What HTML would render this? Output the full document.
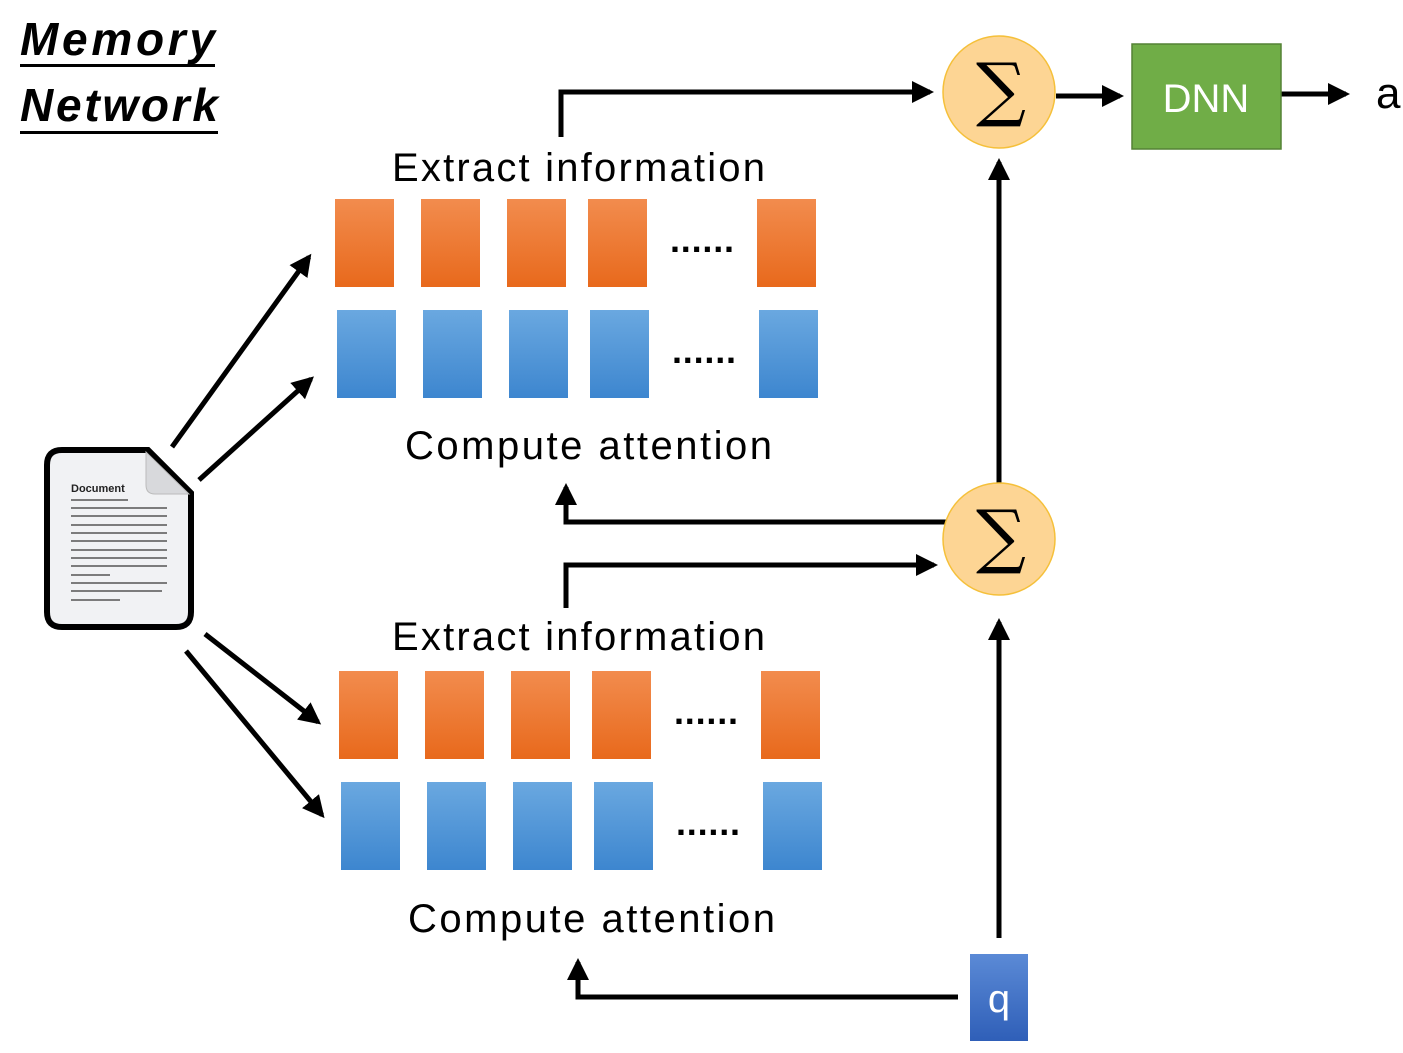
<!DOCTYPE html>
<html><head><meta charset="utf-8"><style>body{margin:0;background:#fff}svg{display:block}</style></head><body>
<svg width="1403" height="1053" viewBox="0 0 1403 1053" xmlns="http://www.w3.org/2000/svg" font-family="Liberation Sans, sans-serif">
<defs>
<linearGradient id="og" x1="0" y1="0" x2="0" y2="1"><stop offset="0" stop-color="#f28c4e"/><stop offset="1" stop-color="#e8691c"/></linearGradient>
<linearGradient id="bg" x1="0" y1="0" x2="0" y2="1"><stop offset="0" stop-color="#6aa8e0"/><stop offset="1" stop-color="#3d86cf"/></linearGradient>
<linearGradient id="qg" x1="0" y1="0" x2="0" y2="1"><stop offset="0" stop-color="#5b8ad6"/><stop offset="1" stop-color="#2f5fb8"/></linearGradient>
<marker id="ah" markerWidth="4.4" markerHeight="4.4" refX="3.6" refY="2.2" orient="auto" markerUnits="strokeWidth"><path d="M0,0 L4.4,2.2 L0,4.4 z" fill="#000"/></marker>
</defs>
<text x="20" y="55" font-size="46" font-weight="bold" font-style="italic" textLength="195">Memory</text>
<rect x="20" y="64" width="195" height="3"/>
<text x="20" y="121" font-size="46" font-weight="bold" font-style="italic" textLength="198">Network</text>
<rect x="20" y="131" width="198" height="3"/>

<g fill="none" stroke="#000" stroke-width="5">
<path d="M561,137 V92 H930" marker-end="url(#ah)"/>
<path d="M1056,96 H1120" marker-end="url(#ah)"/>
<path d="M1281,94 H1346" marker-end="url(#ah)"/>
<path d="M999,483 V162" marker-end="url(#ah)"/>
<path d="M946,522 H566 V487" marker-end="url(#ah)"/>
<path d="M566,608 V565 H934" marker-end="url(#ah)"/>
<path d="M999,938 V622" marker-end="url(#ah)"/>
<path d="M958,997 H578 V962" marker-end="url(#ah)"/>
<path d="M172,447 L309,257" marker-end="url(#ah)"/>
<path d="M199,480 L311,379" marker-end="url(#ah)"/>
<path d="M205,634 L318,722" marker-end="url(#ah)"/>
<path d="M186,651 L322,815" marker-end="url(#ah)"/>
</g>

<circle cx="999" cy="92" r="56" fill="#fdd594" stroke="#f5c03a" stroke-width="1.5"/>
<text x="1001" y="113" font-size="70" text-anchor="middle" font-family="DejaVu Serif, serif">∑</text>
<circle cx="999" cy="539" r="56" fill="#fdd594" stroke="#f5c03a" stroke-width="1.5"/>
<text x="1001" y="560" font-size="70" text-anchor="middle" font-family="DejaVu Serif, serif">∑</text>

<rect x="1132" y="44" width="149" height="105" fill="#70ad47" stroke="#548235" stroke-width="1.5"/>
<text x="1206" y="112" font-size="40" fill="#fff" text-anchor="middle">DNN</text>
<text x="1376" y="108" font-size="44">a</text>

<rect x="970" y="954" width="58" height="87" fill="url(#qg)"/>
<text x="999" y="1012" font-size="40" fill="#fff" text-anchor="middle">q</text>

<g fill="url(#og)">
<rect x="335" y="199" width="59" height="88"/><rect x="421" y="199" width="59" height="88"/><rect x="507" y="199" width="59" height="88"/><rect x="588" y="199" width="59" height="88"/><rect x="757" y="199" width="59" height="88"/>
<rect x="339" y="671" width="59" height="88"/><rect x="425" y="671" width="59" height="88"/><rect x="511" y="671" width="59" height="88"/><rect x="592" y="671" width="59" height="88"/><rect x="761" y="671" width="59" height="88"/>
</g>
<g fill="url(#bg)">
<rect x="337" y="310" width="59" height="88"/><rect x="423" y="310" width="59" height="88"/><rect x="509" y="310" width="59" height="88"/><rect x="590" y="310" width="59" height="88"/><rect x="759" y="310" width="59" height="88"/>
<rect x="341" y="782" width="59" height="88"/><rect x="427" y="782" width="59" height="88"/><rect x="513" y="782" width="59" height="88"/><rect x="594" y="782" width="59" height="88"/><rect x="763" y="782" width="59" height="88"/>
</g>
<g font-size="36" font-weight="bold">
<text x="670" y="252" textLength="64">......</text>
<text x="672" y="363" textLength="64">......</text>
<text x="674" y="724" textLength="64">......</text>
<text x="676" y="835" textLength="64">......</text>
</g>
<g font-size="40">
<text x="392" y="181" textLength="373">Extract information</text>
<text x="405" y="459" textLength="367">Compute attention</text>
<text x="392" y="650" textLength="373">Extract information</text>
<text x="408" y="932" textLength="367">Compute attention</text>
</g>

<path d="M62,450 H148 L191,493 V612 Q191,627 176,627 H62 Q47,627 47,612 V465 Q47,450 62,450 Z" fill="#f1f2f4" stroke="#000" stroke-width="6"/>
<path d="M146,452 V485 Q146,494 155,494 L189,494 Z" fill="#d8d9dc" stroke="#bbb" stroke-width="1"/>
<text x="71" y="492" font-size="11" font-weight="bold" fill="#222">Document</text>
<g stroke="#555" stroke-width="1.6">
<line x1="71" y1="500" x2="128" y2="500"/><line x1="71" y1="508" x2="167" y2="508"/><line x1="71" y1="516" x2="167" y2="516"/><line x1="71" y1="525" x2="167" y2="525"/><line x1="71" y1="533" x2="167" y2="533"/><line x1="71" y1="541" x2="167" y2="541"/><line x1="71" y1="550" x2="167" y2="550"/><line x1="71" y1="558" x2="167" y2="558"/><line x1="71" y1="566" x2="167" y2="566"/><line x1="71" y1="575" x2="110" y2="575"/><line x1="71" y1="583" x2="167" y2="583"/><line x1="71" y1="591" x2="162" y2="591"/><line x1="71" y1="600" x2="120" y2="600"/>
</g>
</svg>
</body></html>
